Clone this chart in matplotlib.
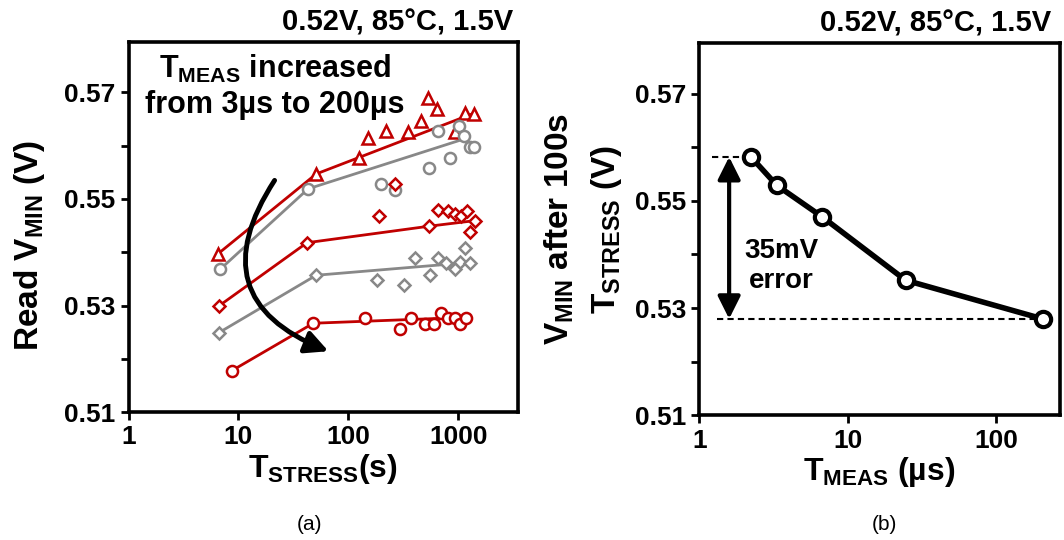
import matplotlib
matplotlib.use("Agg")
import matplotlib.pyplot as plt
from matplotlib.ticker import FixedLocator, FixedFormatter, NullLocator

plt.rcParams['font.family'] = ['Liberation Sans', 'DejaVu Sans']
plt.rcParams['font.weight'] = 'bold'
plt.rcParams['axes.labelweight'] = 'bold'
plt.rcParams['mathtext.fontset'] = 'custom'
plt.rcParams['mathtext.rm'] = 'Liberation Sans:bold'
plt.rcParams['mathtext.it'] = 'Liberation Sans:bold'
plt.rcParams['mathtext.bf'] = 'Liberation Sans:bold'
plt.rcParams['mathtext.default'] = 'rm'

RED = '#C00000'
GRAY = '#888888'

# (a) read Vmin vs stress time, one series per measurement time
tri_line_x = [6.5, 51, 1355]
tri_line_y = [0.5397, 0.5547, 0.5660]
tri_x = [6.5, 51, 124, 151, 218, 352, 456, 531, 641, 929, 1145, 1383]
tri_y = [0.5397, 0.5547, 0.5577, 0.5615, 0.5628, 0.5626, 0.5646, 0.5689, 0.5668, 0.5626, 0.5662, 0.5659]

gc_line_x = [6.8, 43, 1106]
gc_line_y = [0.5368, 0.5519, 0.5612]
gc_x = [6.8, 43, 200, 266, 543, 655, 837, 1017, 1129, 1273, 1383]
gc_y = [0.5368, 0.5519, 0.5528, 0.5517, 0.5558, 0.5628, 0.5577, 0.5637, 0.5618, 0.5598, 0.5598]

rd_line_x = [6.6, 42, 543, 1364]
rd_line_y = [0.5299, 0.5418, 0.5449, 0.5459]
rd_x = [6.6, 42, 191, 265, 543, 655, 808, 929, 1069, 1188, 1273, 1413]
rd_y = [0.5299, 0.5418, 0.5469, 0.5529, 0.5449, 0.5479, 0.5477, 0.5471, 0.5469, 0.5478, 0.5439, 0.5459]

gd_line_x = [6.6, 51, 1273]
gd_line_y = [0.5249, 0.5357, 0.5381]
gd_x = [6.6, 51, 184, 318, 402, 551, 655, 781, 929, 1032, 1145, 1273]
gd_y = [0.5249, 0.5357, 0.5349, 0.5338, 0.5390, 0.5357, 0.5390, 0.5380, 0.5369, 0.5381, 0.5408, 0.5380]

rc_line_x = [8.7, 48, 1170]
rc_line_y = [0.5178, 0.5267, 0.5278]
rc_x = [8.7, 48, 141, 294, 370, 496, 603, 689, 808, 929, 1032, 1170]
rc_y = [0.5178, 0.5267, 0.5276, 0.5257, 0.5276, 0.5266, 0.5266, 0.5287, 0.5276, 0.5276, 0.5266, 0.5276]

# (b) Vmin after 100s stress vs measurement time
tmeas = [2.23, 3.33, 6.75, 24.6, 206]
vmin = [0.5582, 0.5529, 0.5470, 0.5352, 0.5280]

yticks = [0.51, 0.52, 0.53, 0.54, 0.55, 0.56, 0.57]
ylabels = ['0.51', '', '0.53', '', '0.55', '', '0.57']
cond = '0.52V, 85°C, 1.5V'


def style_axes(ax, xticks, xlabels, xmax):
    ax.set_xscale('log')
    ax.set_xlim(1, xmax)
    ax.set_ylim(0.51, 0.5795)
    ax.xaxis.set_major_locator(FixedLocator(xticks))
    ax.xaxis.set_major_formatter(FixedFormatter(xlabels))
    ax.xaxis.set_minor_locator(NullLocator())
    ax.yaxis.set_major_locator(FixedLocator(yticks))
    ax.yaxis.set_major_formatter(FixedFormatter(ylabels))
    for s in ax.spines.values():
        s.set_linewidth(2.6)
    ax.tick_params(direction='out', length=6, width=2, labelsize=19)


fig = plt.figure(figsize=(10.64, 5.40), dpi=100)
ax1 = fig.add_axes([0.1208, 0.2365, 0.366, 0.6863])
ax2 = fig.add_axes([0.6572, 0.2307, 0.339, 0.6904])

style_axes(ax1, [1, 10, 100, 1000], ['1', '10', '100', '1000'], 3490)
style_axes(ax2, [1, 10, 100], ['1', '10', '100'], 270)

series = [
    (tri_line_x, tri_line_y, tri_x, tri_y, RED, '^'),
    (gc_line_x, gc_line_y, gc_x, gc_y, GRAY, 'o'),
    (rd_line_x, rd_line_y, rd_x, rd_y, RED, 'D'),
    (gd_line_x, gd_line_y, gd_x, gd_y, GRAY, 'D'),
    (rc_line_x, rc_line_y, rc_x, rc_y, RED, 'o'),
]
for lx, ly, px, py, c, m in series:
    ax1.plot(lx, ly, color=c, lw=2, zorder=2)
    ms = 6 if m == 'D' else 8
    ax1.plot(px, py, ls='none', marker=m, ms=ms, mfc='white', mec=c, mew=1.8, zorder=3)

ax1.text(0.376, 0.88, '$T_{MEAS}$ increased\nfrom 3µs to 200µs', transform=ax1.transAxes,
         ha='center', va='center', fontsize=22, linespacing=1.2)
ax1.annotate('', xy=(0.52, 0.162), xytext=(0.379, 0.632), xycoords='axes fraction',
             arrowprops=dict(arrowstyle='-|>', connectionstyle='arc3,rad=0.62', color='black',
                             lw=3.5, mutation_scale=34))

ax1.set_xlabel('$T_{STRESS}$(s)', fontsize=23, labelpad=2)
ax1.set_ylabel('Read $V_{MIN}$ (V)', fontsize=24)
ax1.yaxis.set_label_coords(-0.21, 0.45)
ax1.text(0.987, 1.029, cond, transform=ax1.transAxes, ha='right', va='baseline', fontsize=21)

ax2.plot(tmeas, vmin, color='black', lw=4, marker='o', ms=11, mfc='white', mec='black', mew=3,
         zorder=3)
ax2.plot([1.22, tmeas[0]], [vmin[0], vmin[0]], color='black', lw=1.5, ls=(0, (3, 2)), zorder=2)
ax2.plot([1.31, tmeas[-1]], [vmin[-1], vmin[-1]], color='black', lw=1.5, ls=(0, (3, 2)), zorder=2)
ax2.annotate('', xy=(1.59, vmin[-1]), xytext=(1.59, vmin[0]),
             arrowprops=dict(arrowstyle='<|-|>', color='black', lw=3, mutation_scale=34,
                             shrinkA=0, shrinkB=0))
ax2.text(3.56, 0.5378, '35mV\nerror', ha='center', va='center', fontsize=20, linespacing=1.2)

ax2.set_xlabel('$T_{MEAS}$ (µs)', fontsize=23, labelpad=2)
ax2.set_ylabel('$V_{MIN}$ after 100s\n$T_{STRESS}$ (V)', fontsize=24, linespacing=1.5)
ax2.yaxis.set_label_coords(-0.21, 0.5)
ax2.text(0.975, 1.029, cond, transform=ax2.transAxes, ha='right', va='baseline', fontsize=21)

fig.text(310 / 1064, 1 - 525 / 540, '(a)', ha='center', va='center', fontsize=15, fontweight='normal')
fig.text(884 / 1064, 1 - 525 / 540, '(b)', ha='center', va='center', fontsize=15, fontweight='normal')

fig.savefig('out.png', dpi=100)
